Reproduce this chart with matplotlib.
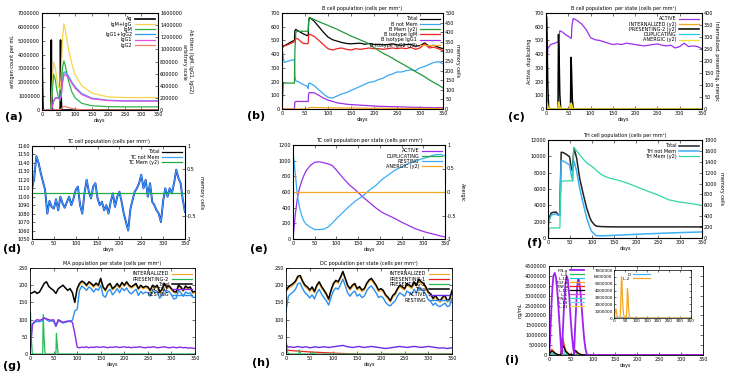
import matplotlib
matplotlib.use("Agg")
import matplotlib.pyplot as plt
from matplotlib.lines import Line2D

W, H = 736, 375

# (a) antigen and antibody titres
ag_days = [0, 1, 3, 5, 27, 28, 29, 31, 33, 55, 56, 57, 59, 61, 350]
ag = [6700000, 2500000, 150000, 0, 0, 5050000, 1500000, 100000, 0, 0, 5050000, 1500000, 100000, 0, 0]
ab_days = [0, 25, 28, 31, 35, 40, 45, 50, 55, 58, 62, 66, 70, 80, 90, 100, 120, 150, 200, 250, 350]
igm_igg = [0, 0, 100000, 450000, 790000, 700000, 500000, 380000, 330000, 600000, 1200000, 1420000, 1330000,
           1000000, 760000, 580000, 400000, 280000, 215000, 205000, 205000]
igm = [0, 0, 80000, 300000, 590000, 500000, 320000, 200000, 150000, 330000, 700000, 808000, 740000,
       480000, 300000, 200000, 110000, 70000, 55000, 52000, 52000]
igg1_igg2 = [0, 0, 10000, 60000, 150000, 200000, 205000, 200000, 190000, 240000, 480000, 620000, 630000,
             560000, 460000, 380000, 270000, 195000, 160000, 152000, 150000]
igg1 = [0, 0, 8000, 55000, 140000, 190000, 195000, 190000, 180000, 225000, 450000, 570000, 590000,
        530000, 440000, 360000, 255000, 185000, 155000, 148000, 146000]
igg2 = [0, 0, 0, 0, 0, 5000, 8000, 8000, 8000, 15000, 45000, 60000, 55000, 40000, 25000, 15000,
        5000, 2000, 0, 0, 0]

# (b) B cell population
b_days = [0, 3, 5, 10, 20, 27, 28, 30, 35, 45, 55, 57, 58, 60, 70, 80, 90, 100, 110, 120, 130, 140,
          150, 160, 170, 180, 190, 200, 210, 220, 230, 240, 250, 260, 270, 280, 290, 300, 310, 320,
          330, 340, 350]
b_total = [452, 460, 462, 470, 490, 500, 570, 580, 570, 550, 535, 540, 640, 668, 640, 600, 560, 525,
           505, 495, 485, 478, 475, 478, 480, 472, 478, 470, 472, 468, 470, 475, 468, 465, 470, 472,
           458, 462, 482, 458, 465, 450, 440]
b_notmem = [450, 370, 340, 345, 355, 360, 240, 205, 200, 180, 165, 150, 185, 190, 170, 140, 110, 85,
            80, 95, 110, 120, 135, 150, 165, 180, 195, 200, 215, 225, 245, 255, 270, 270, 280, 285,
            280, 300, 310, 325, 340, 345, 330]
b_mem = [0, 135, 135, 135, 135, 135, 300, 400, 405, 405, 405, 405, 470, 476, 466, 455, 445, 435, 425,
         415, 403, 392, 380, 370, 360, 350, 338, 320, 305, 290, 278, 265, 250, 237, 223, 210, 195,
         182, 168, 152, 138, 125, 110]
b_igm = [440, 455, 460, 465, 480, 490, 500, 515, 510, 480, 475, 480, 540, 545, 530, 500, 470, 440,
         430, 440, 445, 435, 430, 440, 435, 440, 445, 440, 440, 435, 440, 445, 440, 445, 440, 450,
         435, 445, 475, 445, 450, 440, 425]
b_igg1 = [0, 0, 0, 0, 0, 0, 50, 55, 55, 55, 55, 55, 115, 120, 118, 100, 80, 65, 55, 45, 40, 35, 32,
          30, 28, 26, 24, 22, 20, 19, 18, 17, 16, 15, 14, 13, 12, 12, 11, 11, 10, 10, 10]
b_igg2 = [0, 0, 0, 0, 0, 0, 0, 0, 0, 0, 0, 0, 6, 8, 8, 7, 7, 6, 6, 6, 5, 5, 5, 5, 5, 4, 4, 4, 4, 4,
          4, 4, 3, 3, 3, 3, 3, 3, 3, 3, 3, 3, 3]

# (c) B cell population per state
c_days = [0, 2, 4, 10, 20, 27, 28, 31, 35, 45, 55, 57, 58, 61, 70, 80, 90, 100, 110, 120, 130, 140,
          150, 160, 170, 180, 190, 200, 210, 220, 230, 240, 250, 260, 270, 280, 290, 300, 310, 320,
          330, 340, 350]
c_active = [0, 300, 440, 470, 480, 490, 500, 570, 565, 540, 520, 515, 600, 660, 645, 620, 580, 520,
            505, 500, 490, 480, 470, 475, 470, 480, 475, 470, 465, 460, 465, 470, 475, 465, 460, 465,
            445, 455, 480, 455, 460, 455, 440]
spike_days = [0, 1, 2, 4, 6, 27, 28, 29, 31, 33, 55, 56, 57, 59, 61, 350]
c_pres2 = [0, 385, 320, 100, 0, 0, 310, 260, 60, 0, 0, 215, 180, 40, 0, 0]
c_dup = [0, 120, 80, 20, 0, 0, 60, 40, 5, 0, 0, 130, 90, 10, 0, 0]
c_internal = [0, 18, 14, 5, 0, 0, 22, 18, 6, 0, 0, 20, 16, 4, 0, 0]
c_anergic = [0, 25, 28, 15, 0, 0, 30, 28, 12, 0, 0, 25, 24, 10, 0, 0]

# (d) TC cell population, every 5 days
tc_days = list(range(0, 351, 5))
tc_total = [1110, 1122, 1148, 1140, 1128, 1118, 1108, 1080, 1095, 1088,
            1086, 1097, 1084, 1100, 1092, 1087, 1094, 1100, 1090, 1098,
            1108, 1112, 1090, 1080, 1104, 1120, 1106, 1098, 1112, 1116,
            1098, 1090, 1094, 1084, 1090, 1080, 1094, 1104, 1088, 1100,
            1106, 1094, 1080, 1070, 1060, 1085, 1096, 1106, 1110, 1116,
            1126, 1110, 1120, 1100, 1116, 1094, 1090, 1084, 1080, 1070,
            1095, 1110, 1100, 1110, 1104, 1116, 1132, 1122, 1116, 1096, 1082]
tc_mem_days = [0, 350]
tc_mem = [0, 0]

# (e) TC cell population per state
e_days = [0, 5, 10, 15, 20, 25, 30, 40, 50, 60, 70, 80, 90, 100, 115, 130, 145, 160, 175, 190, 205,
          220, 235, 250, 265, 280, 295, 310, 325, 340, 350]
e_active = [0, 300, 520, 650, 740, 810, 870, 940, 980, 985, 975, 960, 940, 880, 780, 690, 620, 540,
            470, 400, 340, 300, 260, 215, 175, 135, 105, 80, 60, 38, 26]
e_resting = [1110, 850, 560, 400, 300, 230, 190, 150, 120, 120, 125, 150, 200, 260, 340, 420, 490,
             545, 620, 680, 760, 820, 880, 920, 960, 990, 1020, 1045, 1075, 1080, 1060]
e_anergic_days = [0, 350]
e_anergic = [0, 0]

# (f) TH cell population
f_days = [0, 3, 7, 12, 19, 23, 27, 28, 30, 35, 40, 49, 53, 56, 57, 59, 65, 72, 80, 88, 95, 99, 105,
          110, 120, 130, 140, 160, 180, 200, 225, 250, 275, 300, 325, 350]
f_total = [1600, 2500, 3050, 3150, 3170, 2850, 2800, 6000, 10500, 10450, 10300, 9950, 8500, 8200,
           9500, 11050, 9800, 7300, 5400, 3650, 2500, 2050, 1650, 1450, 1400, 1380, 1370, 1360, 1360,
           1360, 1360, 1360, 1360, 1360, 1360, 1360]
f_notmem = [1300, 2200, 2770, 2900, 2930, 2800, 2770, 5500, 9500, 9400, 9250, 8950, 7730, 7000, 8500,
            9440, 8200, 6100, 4200, 2440, 1300, 810, 500, 290, 270, 280, 300, 350, 400, 450, 510,
            560, 610, 660, 700, 740]
f_mem = [0, 180, 185, 185, 185, 185, 185, 600, 1040, 1045, 1050, 1050, 1050, 1050, 1400, 1660, 1600,
         1530, 1450, 1380, 1342, 1320, 1280, 1240, 1171, 1130, 1100, 1060, 1010, 945, 865, 790, 700,
         660, 632, 598]

# (g) MA population per state, every 5 days
ma_days = list(range(0, 351, 5))
ma_total = [175, 178, 182, 176, 180, 192, 205, 210, 196, 190,
            185, 176, 190, 195, 200, 192, 185, 190, 178, 150,
            190, 205, 212, 208, 200, 210, 205, 198, 206, 200,
            220, 195, 186, 200, 205, 190, 196, 205, 195, 208,
            200, 210, 200, 195, 200, 205, 190, 200, 193, 197,
            195, 185, 200, 195, 200, 180, 188, 205, 195, 198,
            190, 182, 180, 200, 195, 185, 198, 192, 195, 180, 182]
ma_resting = [0, 88, 92, 95, 94, 96, 105, 100, 95, 96,
              95, 80, 96, 94, 90, 92, 94, 96, 98, 125,
              130, 185, 198, 192, 185, 195, 190, 180, 190, 185,
              200, 170, 165, 182, 188, 172, 180, 190, 178, 192,
              184, 192, 180, 175, 182, 188, 170, 182, 175, 180,
              178, 168, 185, 178, 182, 162, 170, 188, 178, 182,
              172, 160, 162, 185, 178, 168, 180, 176, 178, 165, 165]
ma_active = [0, 85, 95, 100, 98, 100, 105, 102, 100, 98,
             100, 82, 100, 96, 92, 94, 96, 95, 92, 60,
             20, 18, 20, 19, 21, 18, 20, 19, 21, 20,
             19, 21, 20, 18, 20, 19, 21, 20, 19, 20,
             21, 19, 20, 18, 20, 19, 21, 20, 19, 18,
             20, 19, 21, 20, 18, 19, 20, 21, 19, 18,
             19, 20, 18, 19, 20, 18, 19, 17, 18, 17, 16]
ma_int_days = list(range(100, 351, 5))
ma_internalized = [186, 200, 208, 204, 196, 206, 200, 194, 202, 196,
                   215, 191, 182, 196, 200, 186, 192, 200, 191, 204,
                   196, 205, 196, 191, 196, 200, 186, 196, 189, 193,
                   191, 181, 196, 191, 196, 176, 184, 200, 191, 194,
                   186, 178, 176, 196, 191, 181, 194, 188, 191, 176, 178]
pres_days = [0, 1, 3, 5, 27, 28, 30, 32, 55, 56, 58, 60, 350]
ma_pres2 = [60, 120, 40, 0, 0, 115, 40, 0, 0, 60, 20, 0, 0]

# (h) DC population per state, every 5 days
dc_days = list(range(0, 351, 5))
dc_total = [185, 195, 200, 205, 212, 226, 228, 212, 200, 195,
            186, 195, 182, 200, 210, 196, 186, 175, 160, 186,
            205, 214, 210, 224, 240, 220, 200, 190, 200, 205,
            190, 196, 186, 190, 205, 215, 220, 210, 200, 186,
            190, 185, 172, 165, 155, 170, 176, 190, 200, 195,
            190, 205, 200, 195, 210, 200, 218, 210, 205, 195,
            180, 175, 162, 170, 160, 155, 165, 170, 155, 160, 185]
dc_resting = [125, 168, 175, 180, 188, 205, 206, 190, 178, 172,
              163, 172, 160, 178, 188, 174, 164, 155, 142, 165,
              183, 192, 188, 202, 218, 198, 178, 168, 178, 183,
              168, 174, 164, 168, 183, 193, 198, 188, 178, 164,
              168, 163, 150, 143, 140, 148, 154, 168, 178, 173,
              168, 183, 178, 173, 188, 178, 195, 188, 183, 173,
              158, 153, 142, 148, 140, 138, 143, 148, 138, 140, 162]
dc_active = [25, 20, 21, 19, 20, 22, 20, 19, 21, 20,
             18, 19, 21, 20, 19, 20, 21, 20, 19, 20,
             21, 22, 23, 24, 25, 23, 21, 20, 19, 20,
             21, 22, 20, 19, 20, 21, 22, 21, 20, 19,
             18, 17, 16, 17, 18, 19, 20, 21, 22, 21,
             20, 19, 20, 21, 22, 21, 20, 19, 20, 21,
             22, 21, 20, 19, 18, 17, 18, 17, 16, 17, 18]
dc_internalized = [180, 190, 195, 200, 207, 221, 223, 207, 195, 190,
                   181, 190, 177, 195, 205, 191, 181, 170, 155, 181,
                   200, 209, 205, 219, 235, 215, 195, 185, 195, 200,
                   185, 191, 181, 185, 200, 210, 215, 205, 195, 181,
                   185, 180, 167, 160, 150, 165, 171, 185, 195, 190,
                   185, 200, 195, 190, 205, 195, 213, 205, 200, 190,
                   175, 170, 157, 165, 155, 150, 160, 165, 150, 155, 180]
dc_pres1_days = [0, 10, 20, 30, 50, 80, 110, 150, 350]
dc_pres1 = [12, 10, 9, 8, 6, 4, 2, 0, 0]
dc_pres2 = [20, 30, 8, 0, 0, 12, 4, 0, 0, 5, 2, 0, 0]

# (i) cytokines
ifn_days = [0, 2, 4, 6, 8, 10, 13, 16, 19, 22, 25, 27, 29, 31, 34, 37, 40, 43, 46, 49, 52, 55, 57,
            59, 62, 64, 66, 68, 71, 74, 77, 80, 83, 86, 89, 350]
ifn_g = [0, 500000, 1600000, 2700000, 3500000, 4000000, 4150000, 3900000, 3200000, 2200000, 1200000,
         500000, 50000, 1000000, 2400000, 3500000, 4000000, 3800000, 3000000, 1900000, 1000000,
         350000, 50000, 1200000, 2600000, 3400000, 3850000, 3800000, 3300000, 2500000, 1600000,
         800000, 300000, 50000, 0, 0]
cyt_days = [0, 3, 6, 9, 12, 16, 20, 27, 29, 31, 34, 38, 45, 55, 57, 59, 62, 66, 72, 80, 350]
il4 = [0, 30000, 50000, 40000, 20000, 10000, 0, 0, 40000, 60000, 40000, 20000, 5000, 0, 20000,
       30000, 20000, 10000, 0, 0, 0]
il12 = [0, 80000, 120000, 100000, 60000, 30000, 10000, 0, 150000, 250000, 180000, 80000, 20000, 0,
        80000, 120000, 100000, 50000, 10000, 0, 0]
tgf_b = [0, 200000, 300000, 250000, 150000, 80000, 30000, 0, 600000, 950000, 600000, 250000, 50000,
         0, 150000, 250000, 180000, 80000, 20000, 0, 0]
tnf_a = [0, 150000, 250000, 200000, 120000, 60000, 20000, 0, 500000, 850000, 500000, 200000, 40000,
         0, 100000, 180000, 130000, 60000, 15000, 0, 0]
il10 = [0, 120000, 200000, 180000, 120000, 60000, 20000, 0, 300000, 500000, 380000, 180000, 40000,
        0, 150000, 230000, 200000, 100000, 30000, 0, 0]
flat_days = [0, 350]
il6 = [0, 0]
ifn_b = [0, 0]
il18 = [0, 0]
il23 = [0, 0]
il2_days = [0, 4, 7, 9, 12, 16, 28, 31, 34, 36, 39, 43, 48, 56, 59, 61, 63, 66, 70, 75, 350]
il2 = [0, 600000, 1200000, 1300000, 700000, 0, 0, 2500000, 6000000, 5500000, 2500000, 600000, 0, 0,
       2000000, 4300000, 3800000, 1500000, 300000, 0, 0]
d_days = [0, 20, 40, 60, 80, 100, 350]
danger = [150000, 100000, 80000, 60000, 20000, 0, 0]

FS = 3.5
fig = plt.figure(figsize=(W / 100, H / 100), dpi=100)
fig.patch.set_facecolor("white")


def painel(x0, y0, x1, y1):
    return fig.add_axes([x0 / W, 1 - y1 / H, (x1 - x0) / W, (y1 - y0) / H])


def eixos(ax, ylim, yticks, titulo=None, espelho=True):
    ax.set_xlim(0, 350)
    ax.set_xticks(range(0, 351, 50))
    ax.set_ylim(ylim)
    ax.set_yticks(yticks)
    ax.set_yticklabels([f"{v:g}" if abs(v) < 1 else f"{v:.0f}" for v in yticks])
    ax.tick_params(direction="in", length=2, width=0.4, labelsize=FS, pad=1.5, top=True, right=espelho)
    for s in ax.spines.values():
        s.set_linewidth(0.6)
    ax.set_xlabel("days", fontsize=FS, labelpad=1)
    if titulo:
        ax.set_title(titulo, fontsize=FS, pad=2.5)


def eixo2(ax, ylim, yticks, rotulo=None, pad=4):
    ax2 = ax.twinx()
    ax2.set_ylim(ylim)
    ax2.set_yticks(yticks)
    ax2.set_yticklabels([f"{v:g}" if abs(v) < 1 else f"{v:.0f}" for v in yticks])
    ax2.tick_params(direction="in", length=2, width=0.4, labelsize=FS, pad=1.5)
    if rotulo:
        ax2.set_ylabel(rotulo, fontsize=FS, rotation=270, labelpad=pad)
    return ax2


def legenda(ax, linhas, fs=FS, **kw):
    opcoes = dict(loc="upper right", frameon=False, fontsize=fs, markerfirst=False, handlelength=4,
                  handletextpad=0.6, labelspacing=0.05, borderaxespad=0.3)
    opcoes.update(kw)
    ax.legend(handles=linhas, **opcoes)


# ---- (a) ----
ax = painel(42, 13, 158, 110)
eixos(ax, (0, 7000000), list(range(0, 7000001, 1000000)), espelho=False)
ax.set_ylabel("antigen count per mL", fontsize=FS, labelpad=2)
l0, = ax.plot(ag_days, ag, color="black", lw=1.2, label="Ag")
ax2 = eixo2(ax, (0, 1600000), list(range(0, 1600001, 200000)),
            "Ab titers (IgM, IgG1, IgG2)\narbitrary scale", pad=8)
l1, = ax2.plot(ab_days, igm_igg, color="#f7d54a", lw=0.9, label="IgM+IgG")
l2, = ax2.plot(ab_days, igm, color="#2db34c", lw=0.9, label="IgM")
l3, = ax2.plot(ab_days, igg1_igg2, color="#2d9cf0", lw=0.9, label="IgG1+IgG2")
l4, = ax2.plot(ab_days, igg1, color="#e64ee6", lw=0.9, label="IgG1")
l5, = ax2.plot(ab_days, igg2, color="#f28070", lw=0.9, label="IgG2")
legenda(ax2, [l0, l1, l2, l3, l4, l5])

# ---- (b) ----
ax = painel(282, 13, 443, 109)
eixos(ax, (0, 700), list(range(0, 701, 100)), "B cell population (cells per mm³)", espelho=False)
l0, = ax.plot(b_days, b_total, color="black", lw=0.9, label="Total")
l1, = ax.plot(b_days, b_notmem, color="#3aa8f0", lw=0.9, label="B not Mem")
l3, = ax.plot(b_days, b_igm, color="#ee2222", lw=0.9, label="B isotype IgM")
l4, = ax.plot(b_days, b_igg1, color="#9b30e8", lw=0.9, label="B isotype IgG1")
ax2 = eixo2(ax, (0, 500), list(range(0, 501, 50)), "memory cells")
l2, = ax2.plot(b_days, b_mem, color="#22993a", lw=0.9, label="B Mem (y2)")
l5, = ax2.plot(b_days, b_igg2, color="#f5a623", lw=0.9, label="B isotype IgG2 (y2)")
legenda(ax2, [l0, l1, l2, l3, l4, l5])

# ---- (c) ----
ax = painel(546, 13, 702, 109)
eixos(ax, (0, 700), list(range(0, 701, 100)), "B cell population  per state (cells per mm³)",
      espelho=False)
ax.set_ylabel("Active, duplicating", fontsize=FS, labelpad=2)
l0, = ax.plot(c_days, c_active, color="#9b30e8", lw=0.9, label="ACTIVE")
l3, = ax.plot(spike_days, c_dup, color="#22c8f0", lw=0.9, label="DUPLICATING")
ax2 = eixo2(ax, (0, 400), list(range(0, 401, 50)), "Internalized, presenting, anergic")
l2, = ax2.plot(spike_days, c_pres2, color="black", lw=1.1, label="PRESENTING-2 (y2)")
l1, = ax2.plot(spike_days, c_internal, color="#f5a623", lw=0.9, label="INTERNALIZED (y2)")
l4, = ax2.plot(spike_days, c_anergic, color="#f2e22a", lw=0.9, label="ANERGIC (y2)")
legenda(ax2, [l0, l1, l2, l3, l4])

# ---- (d) ----
ax = painel(32, 146, 185, 239)
eixos(ax, (1050, 1160), list(range(1050, 1161, 10)), "TC cell population (cells per mm³)",
      espelho=False)
ax.plot(tc_days, tc_total, color="#1238b8", lw=1.4)
ax.plot(tc_days, tc_total, color="#3fa4f8", lw=0.7)
ax2 = eixo2(ax, (-1, 1), [-1, -0.5, 0, 0.5, 1], "memory cells", pad=5)
ax2.plot(tc_mem_days, tc_mem, color="#22aa44", lw=0.9)
legenda(ax2, [Line2D([], [], color="black", lw=0.9, label="Total"),
              Line2D([], [], color="#3fa4f8", lw=0.9, label="TC not Mem"),
              Line2D([], [], color="#22aa44", lw=0.9, label="TC Mem (y2)")])

# ---- (e) ----
ax = painel(293, 145, 445, 239)
eixos(ax, (0, 1200), list(range(0, 1201, 200)), "TC cell population per state (cells per mm³)",
      espelho=False)
l0, = ax.plot(e_days, e_active, color="#9b30e8", lw=0.9, label="ACTIVE")
l1, = ax.plot([], [], color="#22aa44", lw=0.9, label="DUPLICATING")
l2, = ax.plot(e_days, e_resting, color="#3aaef5", lw=0.9, label="RESTING")
ax2 = eixo2(ax, (-1, 1), [-1, -0.5, 0, 0.5, 1], "Anergic", pad=6)
l3, = ax2.plot(e_anergic_days, e_anergic, color="#f5a623", lw=0.9, label="ANERGIC (y2)")
legenda(ax2, [l0, l1, l2, l3])

# ---- (f) ----
ax = painel(548, 140, 702, 238)
eixos(ax, (0, 12000), list(range(0, 12001, 2000)), "TH cell population (cells per mm³)",
      espelho=False)
l0, = ax.plot(f_days, f_total, color="#222222", lw=1.1, label="Total")
l1, = ax.plot(f_days, f_notmem, color="#3ab0f5", lw=1.1, label="TH not Mem")
ax2 = eixo2(ax, (0, 1800), list(range(0, 1801, 200)), "memory cells", pad=5)
l2, = ax2.plot(f_days, f_mem, color="#33d6a6", lw=0.9, label="TH Mem (y2)")
legenda(ax2, [l0, l1, l2])

# ---- (g) ----
ax = painel(30, 268, 195, 354)
eixos(ax, (0, 250), list(range(0, 251, 50)), "MA population per state (cells per mm³)")
l0, = ax.plot(ma_int_days, ma_internalized, color="#f5a623", lw=0.8, label="INTERNALIZED")
l1, = ax.plot(pres_days, ma_pres2, color="#22bb55", lw=0.9, label="PRESENTING-2")
l4, = ax.plot(ma_days, ma_resting, color="#2a8ef0", lw=1.0, label="RESTING")
l3, = ax.plot(ma_days, ma_active, color="#8a2be2", lw=1.0, label="ACTIVE")
l2, = ax.plot(ma_days, ma_total, color="black", lw=1.1, label="Total")
legenda(ax, [l0, l1, l2, l3, l4])

# ---- (h) ----
ax = painel(286, 268, 452, 354)
eixos(ax, (0, 250), list(range(0, 251, 50)), "DC population per state (cells per mm³)")
l0, = ax.plot(dc_days, dc_internalized, color="#f5a623", lw=0.8, label="INTERNALIZED")
l1, = ax.plot(dc_pres1_days, dc_pres1, color="#ee2222", lw=0.9, label="PRESENTING-1")
l2, = ax.plot(pres_days, dc_pres2, color="#22bb55", lw=0.9, label="PRESENTING-2")
l5, = ax.plot(dc_days, dc_resting, color="#2a8ef0", lw=1.0, label="RESTING")
l4, = ax.plot(dc_days, dc_active, color="#6a2be8", lw=1.0, label="ACTIVE")
l3, = ax.plot(dc_days, dc_total, color="black", lw=1.1, label="Total")
legenda(ax, [l0, l1, l2, l3, l4, l5])

# ---- (i) ----
ax = painel(549, 266, 703, 355)
eixos(ax, (0, 4500000), list(range(0, 4500001, 500000)))
ax.set_ylabel("ng/mL", fontsize=FS, labelpad=2)
linhas = []
for dias, valores, cor, nome in [(flat_days, il6, "#e040e0", "IL-6"),
                                 (flat_days, ifn_b, "#33ddbb", "IFN-b"),
                                 (flat_days, il18, "#88ccff", "IL-18"),
                                 (flat_days, il23, "#f5d742", "IL-23"),
                                 (cyt_days, il4, "#22bb55", "IL-4"),
                                 (cyt_days, il12, "#22c8f0", "IL-12"),
                                 (cyt_days, tgf_b, "#f5a623", "TGF-b"),
                                 (cyt_days, tnf_a, "#ee2222", "TNF-a"),
                                 (cyt_days, il10, "black", "IL-10")]:
    l, = ax.plot(dias, valores, color=cor, lw=0.9, label=nome)
    linhas.append(l)
lg, = ax.plot(ifn_days, ifn_g, color="#a020f0", lw=1.3, label="IFN-g")
ordem = ["IFN-g", "IL-4", "IL-12", "TGF-b", "TNF-a", "IL-10", "IL-6", "IFN-b", "IL-18", "IL-23"]
todas = {l.get_label(): l for l in linhas + [lg]}
legenda(ax, [todas[n] for n in ordem], fs=2.8, loc="upper left", bbox_to_anchor=(0.03, 1.0),
        labelspacing=0.0, handlelength=3.5)

ins = painel(614, 270, 691, 318)
ins.set_xlim(0, 350)
ins.set_xticks(range(0, 351, 50))
ins.set_ylim(0, 7000000)
ins.set_yticks(range(0, 7000001, 1000000))
ins.set_yticklabels([str(v) for v in range(0, 7000001, 1000000)])
ins.tick_params(direction="in", length=1.5, width=0.4, labelsize=3, pad=1, top=True, right=True)
for s in ins.spines.values():
    s.set_linewidth(0.5)
k1, = ins.plot(d_days, danger, color="#33b5f5", lw=0.8, label="D")
k2, = ins.plot(il2_days, il2, color="#f5a623", lw=0.9, label="IL-2")
legenda(ins, [k1, k2], fs=3, loc="upper left", bbox_to_anchor=(0.08, 1.0), labelspacing=0.0)

# panel letters
for letra, x, y in [("(a)", 5, 117), ("(b)", 247, 116), ("(c)", 508, 117),
                    ("(d)", 3, 249), ("(e)", 250, 249), ("(f)", 527, 243),
                    ("(g)", 3, 366), ("(h)", 252, 363), ("(i)", 505, 360)]:
    fig.text(x / W, 1 - y / H, letra, fontsize=8, fontweight="bold", va="center", ha="left")

fig.savefig("out.png", dpi=100, facecolor="white")
